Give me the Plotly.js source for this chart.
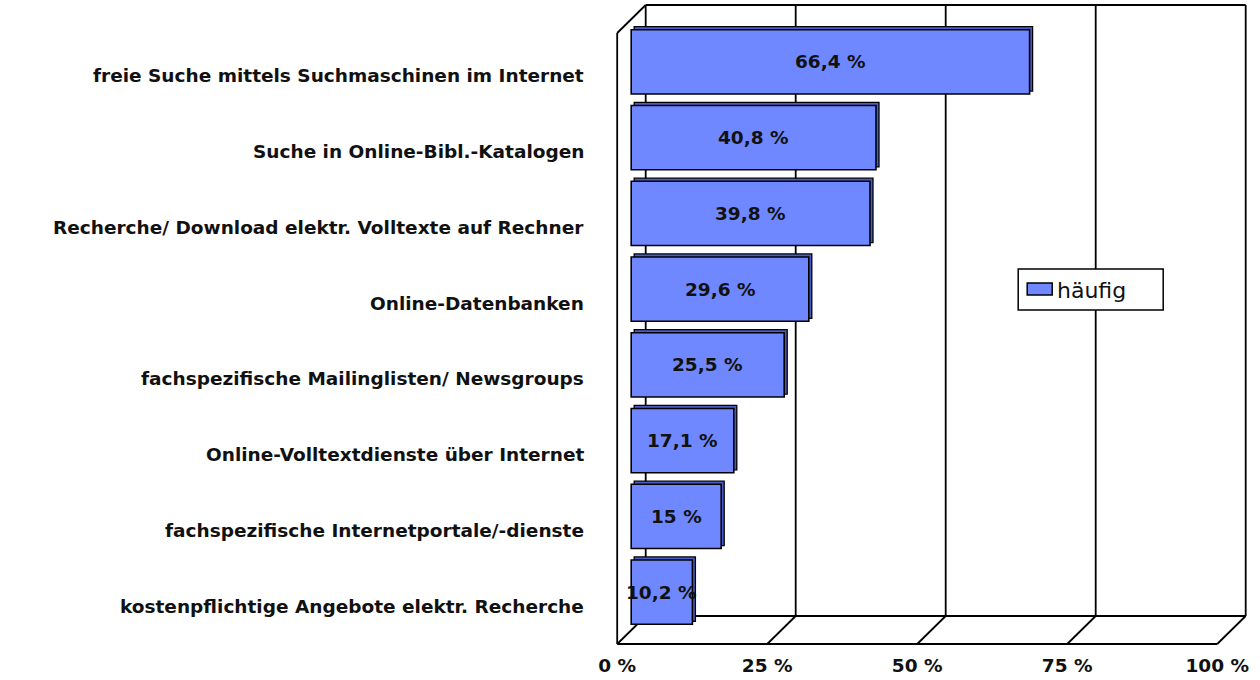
<!DOCTYPE html>
<html>
<head>
<meta charset="utf-8">
<script src="https://cdn.plot.ly/plotly-3.0.1.min.js"></script>
<style>html,body{margin:0;padding:0;background:#fff;}#chart{width:1260px;height:680px;}</style>
</head>
<body>
<div id="chart"></div>
<script>
const categories = [
  'freie Suche mittels Suchmaschinen im Internet',
  'Suche in Online-Bibl.-Katalogen',
  'Recherche/ Download elektr. Volltexte auf Rechner',
  'Online-Datenbanken',
  'fachspezifische Mailinglisten/ Newsgroups',
  'Online-Volltextdienste über Internet',
  'fachspezifische Internetportale/-dienste',
  'kostenpflichtige Angebote elektr. Recherche'
];
const values = [66.4, 40.8, 39.8, 29.6, 25.5, 17.1, 15, 10.2];
const valueLabels = ['66,4 %', '40,8 %', '39,8 %', '29,6 %', '25,5 %', '17,1 %', '15 %', '10,2 %'];
const tickValues = [0, 25, 50, 75, 100];
const tickLabels = ['0 %', '25 %', '50 %', '75 %', '100 %'];
const seriesName = 'häufig';

// geometry (pixels): value 0 sits at x=631, 6 px per percent
const X0 = 631, PPU = 6;
const XMIN = -2.7, XMAX = 102.8;
const L = X0 + XMIN * PPU, R = 1260 - (X0 + XMAX * PPU);
const T = 24, B = 50, W = 1260 - L - R, H = 680 - T - B;
const dX = px => px / PPU;               // pixel -> x data units
const dY = px => px / H;                 // pixel -> paper y
const paperX = px => (px - L) / W;
const paperY = py => (680 - B - py) / H;
const fdx = dX(-14), fdy = dY(-14);      // front plane
const bdx = dX(14.5), bdy = dY(14);      // back plane
const wallTop = paperY(19);

const FONT = 'DejaVu Sans';
const lineStyle = {color: '#000', width: 1.8};
const shapes = [];
function seg(x0, y0, x1, y1) {
  shapes.push({type: 'line', xref: 'x', yref: 'paper', x0, y0, x1, y1, line: lineStyle, layer: 'below'});
}
tickValues.forEach(v => {
  seg(v + bdx, bdy, v + bdx, wallTop + bdy);      // back wall gridline
  seg(v + fdx, fdy, v + bdx, bdy);                 // floor diagonal
});
seg(bdx, wallTop + bdy, 100 + bdx, wallTop + bdy); // back top
seg(bdx, bdy, 100 + bdx, bdy);                     // back bottom
seg(fdx, fdy, 100 + fdx, fdy);                     // front bottom
seg(fdx, fdy, fdx, wallTop + fdy);                 // front left
seg(fdx, wallTop + fdy, bdx, wallTop + bdy);       // top-left diagonal

// legend box
shapes.push({type: 'rect', xref: 'paper', yref: 'paper', x0: paperX(1018), x1: paperX(1163), y0: paperY(310), y1: paperY(269),
  line: {color: '#000', width: 1.5}, fillcolor: '#fff', layer: 'above'});
shapes.push({type: 'rect', xref: 'paper', yref: 'paper', x0: paperX(1027), x1: paperX(1052), y0: paperY(295), y1: paperY(283),
  line: {color: '#000', width: 1.5}, fillcolor: '#7088ff', layer: 'above'});

const annotations = [];
categories.forEach((c, i) => {
  annotations.push({xref: 'paper', yref: 'y', x: paperX(586), y: c, yshift: -14, text: c, showarrow: false,
    xanchor: 'right', yanchor: 'middle', font: {family: FONT, size: 18.5, color: '#111', weight: 'bold'}});
  annotations.push({xref: 'x', yref: 'y', x: values[i] / 2, y: c, text: valueLabels[i], showarrow: false,
    xanchor: 'center', yanchor: 'middle', font: {family: FONT, size: 18.5, color: '#111', weight: 'bold'}});
});
annotations.push({xref: 'paper', yref: 'paper', x: paperX(1055), y: paperY(290), text: seriesName, showarrow: false,
  xanchor: 'left', yanchor: 'middle', font: {family: FONT, size: 22, color: '#111'}});

const barW = 0.85;
const depth = 3; // px
const traces = [
  {type: 'bar', orientation: 'h', y: categories, x: values, base: dX(depth), width: barW,
   offset: -barW / 2 - depth / (H / 8), marker: {color: '#4a5cc8', line: {color: '#000', width: 1.3}},
   hoverinfo: 'skip', showlegend: false},
  {type: 'bar', orientation: 'h', y: categories, x: values, width: barW, offset: -barW / 2,
   name: seriesName, marker: {color: '#7088ff', line: {color: '#000', width: 1.6}}, showlegend: false}
];

const layout = {
  width: 1260, height: 680,
  margin: {l: L, r: R, t: T, b: B, pad: 0},
  paper_bgcolor: '#fff', plot_bgcolor: 'rgba(0,0,0,0)',
  barmode: 'overlay',
  showlegend: false,
  xaxis: {range: [XMIN, XMAX], tickvals: tickValues, ticktext: tickLabels, showgrid: false, zeroline: false,
    showline: false, ticks: '', ticklabelshift: -14, ticklabelstandoff: 22,
    tickfont: {family: FONT, size: 18.5, color: '#111', weight: 'bold'}, fixedrange: true},
  yaxis: {type: 'category', categoryarray: categories, range: [7.5, -0.5], showgrid: false, zeroline: false,
    showline: false, showticklabels: false, ticks: '', fixedrange: true},
  shapes, annotations
};
Plotly.newPlot('chart', traces, layout, {displayModeBar: false, staticPlot: true});
</script>
</body>
</html>
